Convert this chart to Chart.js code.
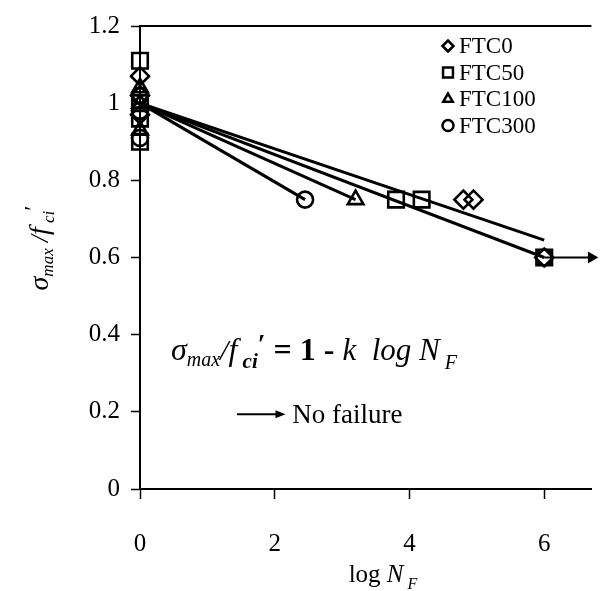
<!DOCTYPE html>
<html>
<head>
<meta charset="utf-8">
<script src="https://cdn.jsdelivr.net/npm/chart.js@4"></script>
<style>
  html, body { margin: 0; padding: 0; background: #fff; }
  canvas { display: block; }
</style>
</head>
<body>
<canvas id="fatigueChart" width="605" height="591"></canvas>
<script>
// Data
const seriesNames = ['FTC0', 'FTC50', 'FTC100', 'FTC300'];
const seriesStyles = ['rectRot', 'rect', 'triangle', 'circle'];

const ftc0X = [0, 0, 0, 4.8, 4.95, 6];
const ftc0Y = [1.07, 1.02, 0.97, 0.75, 0.75, 0.6];
const ftc50X = [0, 0, 0, 0, 3.8, 4.18, 6];
const ftc50Y = [1.11, 1.0, 0.96, 0.9, 0.75, 0.75, 0.6];
const ftc100X = [0, 0, 0, 3.2];
const ftc100Y = [1.04, 1.0, 0.93, 0.75];
const ftc300X = [0, 0, 0, 2.45, 6];
const ftc300Y = [1.02, 0.98, 0.91, 0.75, 0.6];

// regression lines sigma/f = 1 - k log N, all starting at (0, 1)
const fitStartX = 0, fitStartY = 1;
const fitEndX = [6, 6, 3.2, 2.45];
const fitEndY = [0.645, 0.6, 0.75, 0.75];

// run-out (no failure) arrow
const runoutX = [6, 6.7];
const runoutY = [0.6, 0.6];

const xTicks = [0, 2, 4, 6];
const yTicks = [0, 0.2, 0.4, 0.6, 0.8, 1, 1.2];

// annotation anchors in data units
const eqAnchor = { x: 0.46, y: 0.335 };
const keyArrow = { x0: 1.44, x1: 2.16, y: 0.194, textX: 2.26 };

const SERIF = "'Liberation Serif', 'DejaVu Serif', serif";
const markerSizes = [9, 11, 9, 8];

const toPoints = (xs, ys) => xs.map((x, i) => ({ x: x, y: ys[i] }));
const seriesData = [
  toPoints(ftc0X, ftc0Y),
  toPoints(ftc50X, ftc50Y),
  toPoints(ftc100X, ftc100Y),
  toPoints(ftc300X, ftc300Y)
];

const datasets = [];
fitEndX.forEach((x, i) => {
  datasets.push({
    label: seriesNames[i] + ' fit',
    data: [{ x: fitStartX, y: fitStartY }, { x: x, y: fitEndY[i] }],
    showLine: true,
    borderColor: '#000',
    borderWidth: 3,
    pointRadius: 0,
    fill: false
  });
});
seriesData.forEach((pts, i) => {
  datasets.push({
    label: seriesNames[i],
    data: pts,
    pointStyle: seriesStyles[i],
    pointRadius: markerSizes[i],
    borderColor: '#000',
    backgroundColor: 'rgba(0,0,0,0)',
    pointBorderWidth: 2.6,
    showLine: false,
    clip: false
  });
});
datasets.push({
  label: 'runout',
  data: toPoints(runoutX, runoutY),
  showLine: true,
  borderColor: '#000',
  borderWidth: 2,
  pointStyle: 'triangle',
  pointRotation: 90,
  pointRadius: [0, 5],
  pointBackgroundColor: '#000',
  pointBorderColor: '#000',
  clip: false
});

// draw a run of text pieces: [text, style, size, dy]
function drawRuns(ctx, runs, x, y, align) {
  let total = 0;
  runs.forEach(r => {
    ctx.font = r[1] + ' ' + r[2] + 'px ' + SERIF;
    total += ctx.measureText(r[0]).width;
  });
  let cx = align === 'center' ? x - total / 2 : x;
  ctx.textAlign = 'left';
  ctx.textBaseline = 'alphabetic';
  runs.forEach(r => {
    ctx.font = r[1] + ' ' + r[2] + 'px ' + SERIF;
    ctx.fillText(r[0], cx, y + (r[3] || 0));
    cx += ctx.measureText(r[0]).width;
  });
}

const decorations = {
  id: 'decorations',
  afterDraw(chart) {
    const ctx = chart.ctx;
    const xs = chart.scales.x, ys = chart.scales.y;
    const area = chart.chartArea;
    ctx.save();
    ctx.fillStyle = '#000';
    ctx.strokeStyle = '#000';

    // top frame line
    ctx.lineWidth = 2;
    ctx.beginPath();
    ctx.moveTo(area.left, area.top);
    ctx.lineTo(area.right, area.top);
    ctx.stroke();

    // legend
    const legX = 448, legY0 = 46, legStep = 26.5;
    seriesNames.forEach((name, i) => {
      const y = legY0 + i * legStep;
      ctx.lineWidth = 2.5;
      ctx.fillStyle = '#fff';
      Chart.helpers.drawPoint(ctx, {
        pointStyle: seriesStyles[i], radius: i === 1 ? 7 : 5.5, rotation: 0, borderWidth: 2.5
      }, legX, y);
      ctx.fillStyle = '#000';
      ctx.font = '23px ' + SERIF;
      ctx.textAlign = 'left';
      ctx.textBaseline = 'middle';
      ctx.fillText(name, legX + 11, y + 1);
    });

    // equation
    drawRuns(ctx, [
      ['\u03c3', 'italic', 32, 0],
      ['max', 'italic', 20, 6],
      ['/', 'italic', 30, 0],
      ['f', 'italic', 32, 0],
      [' ci', 'italic bold', 21, 8],
      ['\u2032', 'bold', 28, -7],
      [' = 1 - ', 'bold', 32, 0],
      ['k', 'italic', 31, 0],
      ['  log ', 'italic', 31, 0],
      ['N', 'italic', 31, 0],
      [' F', 'italic', 20, 9]
    ], xs.getPixelForValue(eqAnchor.x), ys.getPixelForValue(eqAnchor.y), 'left');

    // "No failure" key
    const ax0 = xs.getPixelForValue(keyArrow.x0);
    const ax1 = xs.getPixelForValue(keyArrow.x1);
    const ay = ys.getPixelForValue(keyArrow.y);
    ctx.lineWidth = 2;
    ctx.beginPath();
    ctx.moveTo(ax0, ay);
    ctx.lineTo(ax1 - 6, ay);
    ctx.stroke();
    ctx.beginPath();
    ctx.moveTo(ax1, ay);
    ctx.lineTo(ax1 - 10, ay - 4);
    ctx.lineTo(ax1 - 10, ay + 4);
    ctx.closePath();
    ctx.fill();
    drawRuns(ctx, [['No failure', 'normal', 27, 0]],
      xs.getPixelForValue(keyArrow.textX), ay + 9, 'left');

    // x axis title
    drawRuns(ctx, [
      ['log', 'normal', 25, 0],
      [' N', 'italic', 25, 0],
      [' F', 'italic', 16, 7]
    ], 383, 582, 'center');

    // y axis title
    ctx.translate(40, 248);
    ctx.rotate(-Math.PI / 2);
    drawRuns(ctx, [
      ['\u03c3', 'italic', 28, 0],
      ['max', 'italic', 17, 5],
      [' /', 'italic', 25, 0],
      ['f', 'italic', 28, 0],
      [' ci', 'italic', 17, 6],
      ['\u2032', 'normal', 24, -8]
    ], 0, 8, 'center');
    ctx.restore();
  }
};

const fmt = v => String(Math.round(v * 10) / 10);

new Chart(document.getElementById('fatigueChart').getContext('2d'), {
  type: 'scatter',
  data: { datasets: datasets },
  options: {
    responsive: false,
    animation: false,
    layout: { padding: { top: 24, right: 0, left: 0, bottom: 0 } },
    plugins: { legend: { display: false }, tooltip: { enabled: false } },
    scales: {
      x: {
        type: 'linear',
        min: 0,
        max: 6.7,
        afterBuildTicks: s => { s.ticks = xTicks.map(v => ({ value: v })); },
        afterFit: s => { s.height = 102; },
        ticks: { color: '#000', font: { family: SERIF, size: 25 }, padding: 30, callback: fmt, maxRotation: 0 },
        grid: { drawOnChartArea: false, tickLength: 10, tickColor: '#000', tickWidth: 1.5 },
        border: { color: '#000', width: 2 }
      },
      y: {
        type: 'linear',
        min: 0,
        max: 1.2,
        afterBuildTicks: s => { s.ticks = yTicks.map(v => ({ value: v })); },
        afterFit: s => { s.width = 140; },
        ticks: { color: '#000', font: { family: SERIF, size: 25 }, padding: 11, callback: fmt },
        grid: { drawOnChartArea: false, tickLength: 9, tickColor: '#000', tickWidth: 1.5 },
        border: { color: '#000', width: 2 }
      }
    }
  },
  plugins: [decorations]
});
</script>
</body>
</html>
